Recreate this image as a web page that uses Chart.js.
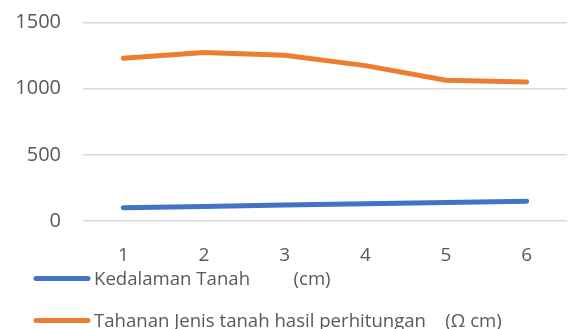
<!DOCTYPE html>
<html>
<head>
<meta charset="utf-8">
<script src="https://cdn.jsdelivr.net/npm/chart.js@4/dist/chart.umd.min.js"></script>
<style>
  html, body { margin: 0; padding: 0; background: #ffffff; }
  #wrap { width: 571px; height: 329px; }
</style>
</head>
<body>
<div id="wrap"><canvas id="c" width="571" height="329"></canvas></div>
<script>
// Measurement points along the depth profile
const categories = ['1', '2', '3', '4', '5', '6'];
// Soil depth (cm)
const kedalaman = [100, 110, 120, 130, 140, 150];
// Calculated soil resistivity (Ω cm)
const tahanan = [1230, 1273, 1253, 1174, 1063, 1050];
// Series names shown in the legend
const seriesNames = [
  'Kedalaman Tanah         (cm)',
  'Tahanan Jenis tanah hasil perhitungan    (\u03A9 cm)'
];
const yTicks = [0, 500, 1000, 1500];

const FONT = "'Open Sans', 'Liberation Sans', sans-serif";
const TEXT = '#595959';

// Legend drawn as a vertical list under the axis
const stackedLegend = {
  id: 'stackedLegend',
  afterDraw(chart) {
    const ctx = chart.ctx;
    const rows = [{ line: 278.5, base: 285 }, { line: 320.5, base: 326.5 }];
    ctx.save();
    chart.data.datasets.forEach((ds, i) => {
      const r = rows[i];
      ctx.strokeStyle = ds.borderColor;
      ctx.lineWidth = 5;
      ctx.lineCap = 'round';
      ctx.beginPath();
      ctx.moveTo(36, r.line);
      ctx.lineTo(88, r.line);
      ctx.stroke();
      ctx.fillStyle = TEXT;
      ctx.font = '18.6px ' + FONT;
      ctx.textAlign = 'left';
      ctx.textBaseline = 'alphabetic';
      ctx.fillText(ds.label, 94, r.base);
    });
    ctx.restore();
  }
};

new Chart(document.getElementById('c'), {
  type: 'line',
  data: {
    labels: categories,
    datasets: [
      {
        label: seriesNames[0],
        data: kedalaman,
        borderColor: '#4472C4',
        backgroundColor: '#4472C4',
        borderWidth: 5,
        borderCapStyle: 'round',
        borderJoinStyle: 'round',
        pointRadius: 0,
        tension: 0
      },
      {
        label: seriesNames[1],
        data: tahanan,
        borderColor: '#ED7D31',
        backgroundColor: '#ED7D31',
        borderWidth: 5,
        borderCapStyle: 'round',
        borderJoinStyle: 'round',
        pointRadius: 0,
        tension: 0
      }
    ]
  },
  options: {
    responsive: false,
    animation: false,
    devicePixelRatio: 1,
    layout: { padding: { left: 0, top: 22.5, right: 4, bottom: 65 } },
    plugins: {
      legend: { display: false },
      tooltip: { enabled: false }
    },
    scales: {
      x: {
        offset: true,
        grid: { display: false, drawTicks: false },
        border: { display: false },
        ticks: {
          color: TEXT,
          font: { family: FONT, size: 19 },
          padding: 23,
          maxRotation: 0
        },
        afterFit(scale) { scale.height = 43; }
      },
      y: {
        min: 0,
        max: 1500,
        grid: { color: '#D9D9D9', lineWidth: 1.5, drawTicks: false },
        border: { display: false },
        afterBuildTicks(scale) { scale.ticks = yTicks.map(v => ({ value: v })); },
        ticks: {
          color: TEXT,
          font: { family: FONT, size: 20 },
          padding: 22,
          callback: (v) => String(v)
        },
        afterFit(scale) {
          scale.width = 83;
          scale.paddingTop = 0;
          scale.paddingBottom = 0;
        }
      }
    }
  },
  plugins: [stackedLegend]
});
</script>
</body>
</html>
